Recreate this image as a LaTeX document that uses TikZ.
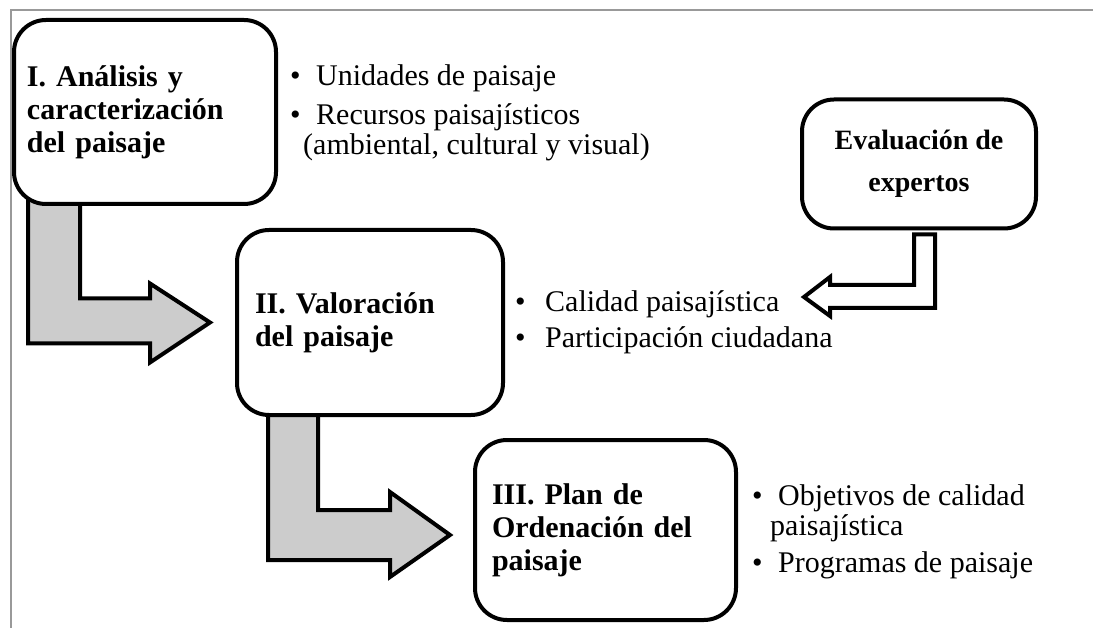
\documentclass[tikz,border=0pt]{standalone}
\usepackage{fontspec}
\setmainfont{Liberation Serif}
\usetikzlibrary{positioning, backgrounds}

\begin{document}
\begin{tikzpicture}[x=1pt, y=-1pt,
    box/.style={draw, line width=4pt, rounded corners=32pt, fill=white, inner sep=0pt, align=left, font=\fontsize{30}{33}\selectfont\bfseries},
    item/.style={anchor=base west, inner sep=0pt, align=left, font=\fontsize{30}{30}\selectfont},
    bigarrow/.style={draw, line width=4pt, fill=black!20},
    hollowarrow/.style={draw, line width=4pt, fill=white}]
  \useasboundingbox (0,0) rectangle (1093,628);
  \draw[black!40, line width=1.5pt] (11,628) -- (11,10) -- (1093,10);

  \node[box, minimum width=262pt, minimum height=184pt, text width=236pt] (analisis) at (145,112) {I. Análisis y\\caracterización\\del paisaje};
  \node[box, minimum width=266pt, minimum height=185pt, text width=230pt] (valoracion) at (370,322.5) {II. Valoración\\del paisaje};
  \node[box, minimum width=261pt, minimum height=180pt, text width=227pt] (ordenacion) at (605.5,530) {III. Plan de\\Ordenación del\\paisaje};
  \node[box, minimum width=234pt, minimum height=129pt, align=center, font=\fontsize{28}{42}\selectfont\bfseries] (expertos) at (919,164) {Evaluación de\\expertos};

  \node[item] (unidades) at (290,86) {\makebox[26pt][l]{\textbullet}Unidades de paisaje};
  \node[item] (recursos) at (290,155) {\makebox[26pt][l]{\textbullet}Recursos paisajísticos\\\hspace*{13pt}(ambiental, cultural y visual)};
  \node[item] (calidad) at (515,312) {\makebox[30pt][l]{\textbullet}Calidad paisajística};
  \node[item] (participacion) at (515,348) {\makebox[30pt][l]{\textbullet}Participación ciudadana};
  \node[item] (objetivos) at (752,535) {\makebox[26pt][l]{\textbullet}Objetivos de calidad\\\hspace*{18pt}paisajística};
  \node[item] (programas) at (752,572) {\makebox[26pt][l]{\textbullet}Programas de paisaje};

  \coordinate (tip1) at ([xshift=-25pt]valoracion.west);
  \coordinate (tip2) at ([xshift=-23pt,yshift=-5pt]ordenacion.west);
  \coordinate (evalTip) at (804,297);

  \begin{scope}[on background layer]
    \draw[bigarrow] ([xshift=16pt,yshift=10pt]analisis.south west) |- ([xshift=-60pt,yshift=-21pt]tip1)
      -- ++(0,19) -- (tip1) -- ++(-60,-39) -- ++(0,15) -| ([xshift=68pt,yshift=10pt]analisis.south west) -- cycle;
    \draw[bigarrow] ([xshift=33pt,yshift=10pt]valoracion.south west) |- ([xshift=-60pt,yshift=-25pt]tip2)
      -- ++(0,17) -- (tip2) -- ++(-60,-43) -- ++(0,18) -| ([xshift=83pt,yshift=10pt]valoracion.south west) -- cycle;
  \end{scope}
  \draw[hollowarrow] ([xshift=-5pt,yshift=-4pt]expertos.south) |- ([xshift=26pt,yshift=12pt]evalTip)
    -- ++(0,-8) -- (evalTip) -- ++(26,19) -- ++(0,-8) -| ([xshift=16pt,yshift=-4pt]expertos.south) -- cycle;
\end{tikzpicture}
\end{document}
